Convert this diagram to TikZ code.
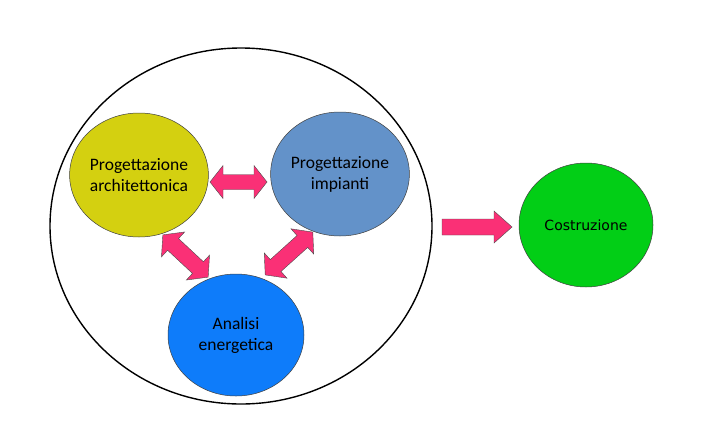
\documentclass[tikz,border=0pt]{standalone}
\usepackage{fontspec}
\setmainfont{Carlito}
\newfontfamily\costfont{DejaVu Sans}
\definecolor{cyellow}{RGB}{212,208,16}
\definecolor{cgrayblue}{RGB}{99,146,201}
\definecolor{cblue}{RGB}{14,124,250}
\definecolor{cgreen}{RGB}{2,206,22}
\definecolor{cpink}{RGB}{250,48,118}
\usetikzlibrary{shapes.geometric}
\tikzset{
  bubble/.style={ellipse, draw=black!75, line width=0.5pt, align=center, font=\fontsize{17.5}{21}\selectfont, inner sep=0pt},
  blockarrow/.style={fill=cpink, draw=black!70, line width=0.4pt, line join=miter},
}
\newcommand{\dblarrow}[6]{% cx cy angle L s k
  \begin{scope}[shift={(#1,#2)}, rotate=#3]
    \path[blockarrow] (-#4,0) -- (-#4+#6,#5+9) -- (-#4+#6,#5) -- (#4-#6,#5) -- (#4-#6,#5+9) -- (#4,0)
      -- (#4-#6,-#5-9) -- (#4-#6,-#5) -- (-#4+#6,-#5) -- (-#4+#6,-#5-9) -- cycle;
  \end{scope}}
\begin{document}
\begin{tikzpicture}[x=1pt,y=-1pt]
\useasboundingbox (0,0) rectangle (709,442);
\fill[white] (0,0) rectangle (709,442);
\node[ellipse, draw=black, line width=1.4pt, minimum width=382pt, minimum height=356pt] (outer) at (241,226) {};
\node[bubble, fill=cyellow, minimum width=134pt, minimum height=124pt] (arch) at (139,175) {Progettazione\\architettonica};
\node[bubble, fill=cgrayblue, minimum width=134pt, minimum height=124pt] (imp) at (340,174) {Progettazione\\impianti};
\node[bubble, fill=cblue, minimum width=136pt, minimum height=122pt] (ene) at (236,335) {Analisi\\energetica};
\node[bubble, fill=cgreen, minimum width=134pt, minimum height=124pt] (cos) at (586,225) {\costfont\fontsize{14}{17}\selectfont Costruzione};
\dblarrow{238.5}{182}{0}{28.5}{7.5}{13}
\dblarrow{185.5}{256}{-43}{31}{8}{14}
\dblarrow{289}{253.5}{42}{32}{8}{14}
\path[blockarrow] (442,219) -- (494,219) -- (494,211) -- (512,227) -- (494,243) -- (494,235) -- (442,235) -- cycle;
\end{tikzpicture}
\end{document}
